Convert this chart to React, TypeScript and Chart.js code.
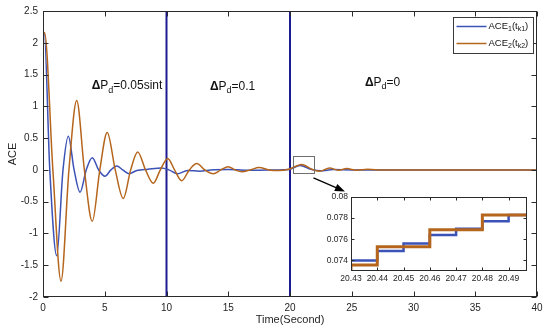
import React, { useEffect, useRef } from 'react';
import { Chart, registerables } from 'chart.js';

Chart.register(...registerables);

const FONT = '"Liberation Sans", Arial, Helvetica, sans-serif';

// ---- main series ----
const ace1Time = [0, 0.1, 0.55, 1.11, 1.62, 2.05, 2.52, 3.0, 3.5, 3.99, 4.5, 5.02, 5.5, 5.97, 6.45, 6.96, 7.6, 8.5, 9.6, 10.2, 10.9, 11.7, 12.7, 13.6, 15, 17, 19, 19.9, 20.8, 21.7, 22.5, 23.5, 25, 40];
const ace1Value = [2.12, 2.15, 0, -1.35, 0, 0.53, 0, -0.35, 0, 0.19, 0, -0.1, 0, 0.06, 0, -0.06, -0.01, 0.01, 0.03, 0.0, -0.06, -0.01, -0.02, 0.0, 0.005, -0.005, 0.0, 0.005, 0.07, 0.01, -0.015, 0.005, 0, 0];

const ace2Time = [0, 0.02, 0.12, 0.8, 1.46, 2.1, 2.73, 3.35, 3.99, 4.6, 5.2, 5.85, 6.5, 7.1, 7.67, 8.3, 8.93, 9.5, 10.1, 10.65, 11.23, 11.85, 12.45, 13.1, 13.79, 14.4, 15.0, 15.55, 16.09, 16.8, 17.49, 18.3, 19.1, 19.9, 20.95, 21.8, 22.4, 23.2, 23.9, 24.6, 25.4, 26.3, 27.5, 29, 40];
const ace2Value = [0, 2.1, 2.16, 0, -1.75, 0, 1.09, 0, -0.81, 0, 0.59, 0, -0.45, 0, 0.28, 0, -0.21, 0, 0.18, 0, -0.17, 0, 0.1, 0, -0.06, 0, 0.05, 0, -0.03, 0, 0.036, 0, -0.01, 0.01, 0.085, 0.005, -0.02, 0.03, -0.005, 0.02, -0.005, 0.01, -0.003, 0, 0];

const dividerTimes = [10, 20];
const xTickValues = [0, 5, 10, 15, 20, 25, 30, 35, 40];
const yTickValues = [-2, -1.5, -1, -0.5, 0, 0.5, 1, 1.5, 2, 2.5];
const regionValues = ['0.05sint', '0.1', '0'];
const legendNames = ['ACE', 'ACE'];
const legendIndex = ['1', '2'];
const legendArg = ['k1', 'k2'];

// ---- inset series ----
const insetTime1 = [20.43, 20.44, 20.45, 20.46, 20.47, 20.48, 20.49, 20.5];
const insetValue1 = [0.074, 0.0749, 0.0756, 0.0764, 0.077, 0.0777, 0.0783, 0.0783];
const insetTime2 = [20.42, 20.43, 20.44, 20.46, 20.48, 20.5];
const insetValue2 = [0.0725, 0.07356, 0.0753, 0.0769, 0.0783, 0.0783];
const insetXTicks = [20.43, 20.44, 20.45, 20.46, 20.47, 20.48, 20.49];
const insetYTicks = [0.074, 0.076, 0.078, 0.08];

const BLUE = '#3b52b6';
const ORANGE = '#b5651c';
const DIVIDER = '#1c1c90';
const AXIS = '#2a2a2a';
const TEXT = '#262626';

function pts(xs: number[], ys: number[]) {
  return xs.map((x, i) => ({ x, y: ys[i] }));
}

function drawRich(ctx: CanvasRenderingContext2D, parts: { t: string; size: number; bold?: boolean; dy?: number }[], x: number, y: number) {
  let cx = x;
  for (const p of parts) {
    ctx.font = `${p.bold ? 'bold ' : ''}${p.size}px ${FONT}`;
    ctx.fillText(p.t, cx, y + (p.dy || 0));
    cx += ctx.measureText(p.t).width;
  }
}

function frameAndTicks(chart: any, len: number, color: string, lw: number) {
  const { ctx, chartArea } = chart;
  const { left, right, top, bottom } = chartArea;
  const xs = chart.scales.x;
  const ys = chart.scales.y;
  ctx.save();
  ctx.strokeStyle = color;
  ctx.lineWidth = lw;
  const L = Math.round(left) + 0.5, R = Math.round(right) - 0.5, T = Math.round(top) + 0.5, B = Math.round(bottom) - 0.5;
  ctx.strokeRect(L, T, R - L, B - T);
  ctx.beginPath();
  xs.ticks.forEach((t: any) => {
    const px = Math.round(xs.getPixelForValue(t.value)) + 0.5;
    ctx.moveTo(px, B); ctx.lineTo(px, B - len);
    ctx.moveTo(px, T); ctx.lineTo(px, T + len);
  });
  ys.ticks.forEach((t: any) => {
    const py = Math.round(ys.getPixelForValue(t.value)) + 0.5;
    ctx.moveTo(L, py); ctx.lineTo(L + len, py);
    ctx.moveTo(R, py); ctx.lineTo(R - len, py);
  });
  ctx.stroke();
  ctx.restore();
}

const mainDecor = {
  id: 'mainDecor',
  afterDraw(chart: any) {
    const { ctx, chartArea } = chart;
    const xs = chart.scales.x;
    const ys = chart.scales.y;
    frameAndTicks(chart, 5, AXIS, 1);

    // region annotations
    const anchors = [[3.94, 1.27], [13.52, 1.26], [26.07, 1.32]];
    ctx.save();
    ctx.fillStyle = '#111';
    ctx.textBaseline = 'alphabetic';
    ctx.textAlign = 'left';
    regionValues.forEach((v, i) => {
      const px = xs.getPixelForValue(anchors[i][0]);
      const py = ys.getPixelForValue(anchors[i][1]);
      drawRich(ctx, [
        { t: 'Δ', size: 12, bold: true },
        { t: 'P', size: 12 },
        { t: 'd', size: 9, dy: 3.5 },
        { t: '=' + v, size: 12 },
      ], px, py);
    });
    ctx.restore();

    // zoom box and arrow
    ctx.save();
    const bx1 = xs.getPixelForValue(20.27), bx2 = xs.getPixelForValue(21.94);
    const by1 = ys.getPixelForValue(0.22), by2 = ys.getPixelForValue(-0.04);
    ctx.strokeStyle = '#6e6e6e';
    ctx.lineWidth = 1;
    ctx.strokeRect(Math.round(bx1) + 0.5, Math.round(by1) + 0.5, Math.round(bx2 - bx1), Math.round(by2 - by1));
    const ax1 = xs.getPixelForValue(21.9), ay1 = ys.getPixelForValue(-0.125);
    const ax2 = xs.getPixelForValue(24.45), ay2 = ys.getPixelForValue(-0.34);
    const ang = Math.atan2(ay2 - ay1, ax2 - ax1);
    ctx.strokeStyle = '#000';
    ctx.fillStyle = '#000';
    ctx.lineWidth = 1.2;
    ctx.beginPath();
    ctx.moveTo(ax1, ay1);
    ctx.lineTo(ax2 - 6 * Math.cos(ang), ay2 - 6 * Math.sin(ang));
    ctx.stroke();
    ctx.beginPath();
    ctx.moveTo(ax2, ay2);
    ctx.lineTo(ax2 - 10 * Math.cos(ang) + 3.8 * Math.sin(ang), ay2 - 10 * Math.sin(ang) - 3.8 * Math.cos(ang));
    ctx.lineTo(ax2 - 10 * Math.cos(ang) - 3.8 * Math.sin(ang), ay2 - 10 * Math.sin(ang) + 3.8 * Math.cos(ang));
    ctx.closePath();
    ctx.fill();
    ctx.restore();

    // legend
    ctx.save();
    const lw = 80, lh = 36;
    const lx = Math.round(chartArea.right - 4 - lw) + 0.5;
    const ly = Math.round(chartArea.top + 6) + 0.5;
    ctx.fillStyle = '#fff';
    ctx.fillRect(lx, ly, lw, lh);
    ctx.strokeStyle = '#3a3a3a';
    ctx.lineWidth = 1;
    ctx.strokeRect(lx, ly, lw, lh);
    const colors = [BLUE, ORANGE];
    legendNames.forEach((n, i) => {
      const ry = ly + 9 + i * 17;
      ctx.strokeStyle = colors[i];
      ctx.lineWidth = 1.5;
      ctx.beginPath();
      ctx.moveTo(lx + 3, ry);
      ctx.lineTo(lx + 33, ry);
      ctx.stroke();
      ctx.fillStyle = '#111';
      ctx.textBaseline = 'middle';
      drawRich(ctx, [
        { t: n, size: 9.5 },
        { t: legendIndex[i], size: 7, dy: 2.5 },
        { t: '(t', size: 9.5 },
        { t: legendArg[i], size: 7, dy: 2.5 },
        { t: ')', size: 9.5 },
      ], lx + 35, ry);
    });
    ctx.restore();
  },
};

const insetBg = {
  id: 'insetBg',
  beforeDraw(chart: any) {
    const { ctx, chartArea } = chart;
    ctx.save();
    ctx.fillStyle = '#fff';
    ctx.fillRect(chartArea.left, chartArea.top, chartArea.right - chartArea.left, chartArea.bottom - chartArea.top);
    ctx.restore();
  },
  afterDraw(chart: any) {
    frameAndTicks(chart, 3, AXIS, 1);
  },
};

export default function App() {
  const mainRef = useRef<HTMLCanvasElement>(null);
  const insetRef = useRef<HTMLCanvasElement>(null);

  useEffect(() => {
    const dividerSets = dividerTimes.map((t) => ({
      label: 'divider',
      data: [{ x: t, y: yTickValues[0] }, { x: t, y: yTickValues[yTickValues.length - 1] }],
      borderColor: DIVIDER,
      borderWidth: 2,
      pointRadius: 0,
      order: 2,
    }));
    const main = new Chart(mainRef.current as HTMLCanvasElement, {
      type: 'line',
      data: {
        datasets: [
          {
            label: 'ACE2',
            data: pts(ace2Time, ace2Value),
            borderColor: ORANGE,
            borderWidth: 1.5,
            pointRadius: 0,
            cubicInterpolationMode: 'monotone',
            order: 0,
          },
          {
            label: 'ACE1',
            data: pts(ace1Time, ace1Value),
            borderColor: BLUE,
            borderWidth: 1.5,
            pointRadius: 0,
            cubicInterpolationMode: 'monotone',
            order: 1,
          },
          ...dividerSets,
        ] as any,
      },
      options: {
        responsive: false,
        animation: false,
        devicePixelRatio: 1,
        events: [],
        layout: { padding: { left: 0, right: 13, top: 9, bottom: 0 } },
        plugins: { legend: { display: false }, tooltip: { enabled: false } },
        scales: {
          x: {
            type: 'linear',
            min: 0,
            max: 40,
            afterBuildTicks: (s: any) => { s.ticks = xTickValues.map((v) => ({ value: v })); },
            afterFit: (s: any) => { s.height = 33; },
            grid: { display: false, drawTicks: false },
            border: { display: false },
            ticks: {
              font: { size: 10, family: FONT },
              color: TEXT,
              padding: 5,
              maxRotation: 0,
              autoSkip: false,
              callback: (v: any) => String(v),
            },
            title: {
              display: true,
              text: 'Time(Second)',
              font: { size: 11, family: FONT },
              color: TEXT,
              padding: { top: 0, bottom: 3 },
            },
          },
          y: {
            type: 'linear',
            min: -2,
            max: 2.5,
            afterBuildTicks: (s: any) => { s.ticks = yTickValues.map((v) => ({ value: v })); },
            afterFit: (s: any) => { s.width = 43; },
            grid: { display: false, drawTicks: false },
            border: { display: false },
            ticks: {
              font: { size: 10, family: FONT },
              color: TEXT,
              padding: 5,
              autoSkip: false,
              callback: (v: any) => String(v),
            },
            title: {
              display: true,
              text: 'ACE',
              font: { size: 11, family: FONT },
              color: TEXT,
              padding: { top: 6, bottom: 0 },
            },
          },
        },
      } as any,
      plugins: [mainDecor],
    });

    const inset = new Chart(insetRef.current as HTMLCanvasElement, {
      type: 'line',
      data: {
        datasets: [
          {
            label: 'ACE2',
            data: pts(insetTime2, insetValue2),
            borderColor: ORANGE,
            borderWidth: 3,
            pointRadius: 0,
            stepped: 'before',
            order: 0,
          },
          {
            label: 'ACE1',
            data: pts(insetTime1, insetValue1),
            borderColor: BLUE,
            borderWidth: 2.5,
            pointRadius: 0,
            stepped: 'before',
            order: 1,
          },
        ] as any,
      },
      options: {
        responsive: false,
        animation: false,
        devicePixelRatio: 1,
        events: [],
        layout: { padding: { left: 0, right: 7, top: 9, bottom: 0 } },
        plugins: { legend: { display: false }, tooltip: { enabled: false } },
        scales: {
          x: {
            type: 'linear',
            min: 20.43,
            max: 20.497,
            afterBuildTicks: (s: any) => { s.ticks = insetXTicks.map((v) => ({ value: v })); },
            afterFit: (s: any) => { s.height = 17; },
            grid: { display: false, drawTicks: false },
            border: { display: false },
            ticks: {
              font: { size: 8.5, family: FONT },
              color: TEXT,
              padding: 3,
              maxRotation: 0,
              autoSkip: false,
              callback: (v: any) => Number(v).toFixed(2),
            },
          },
          y: {
            type: 'linear',
            min: 0.073,
            max: 0.08,
            afterBuildTicks: (s: any) => { s.ticks = insetYTicks.map((v) => ({ value: v })); },
            afterFit: (s: any) => { s.width = 29; },
            grid: { display: false, drawTicks: false },
            border: { display: false },
            ticks: {
              font: { size: 8.5, family: FONT },
              color: TEXT,
              padding: 3,
              autoSkip: false,
              callback: (v: any) => String(v),
            },
          },
        },
      } as any,
      plugins: [insetBg],
    });

    return () => {
      main.destroy();
      inset.destroy();
    };
  }, []);

  return (
    <div style={{ position: 'fixed', left: 0, top: 0, width: 550, height: 330, background: '#fff' }}>
      <canvas ref={mainRef} width={550} height={330} style={{ position: 'absolute', left: 0, top: 0, width: 550, height: 330 }} />
      <canvas ref={insetRef} width={212} height={100} style={{ position: 'absolute', left: 322, top: 188, width: 212, height: 100 }} />
    </div>
  );
}
